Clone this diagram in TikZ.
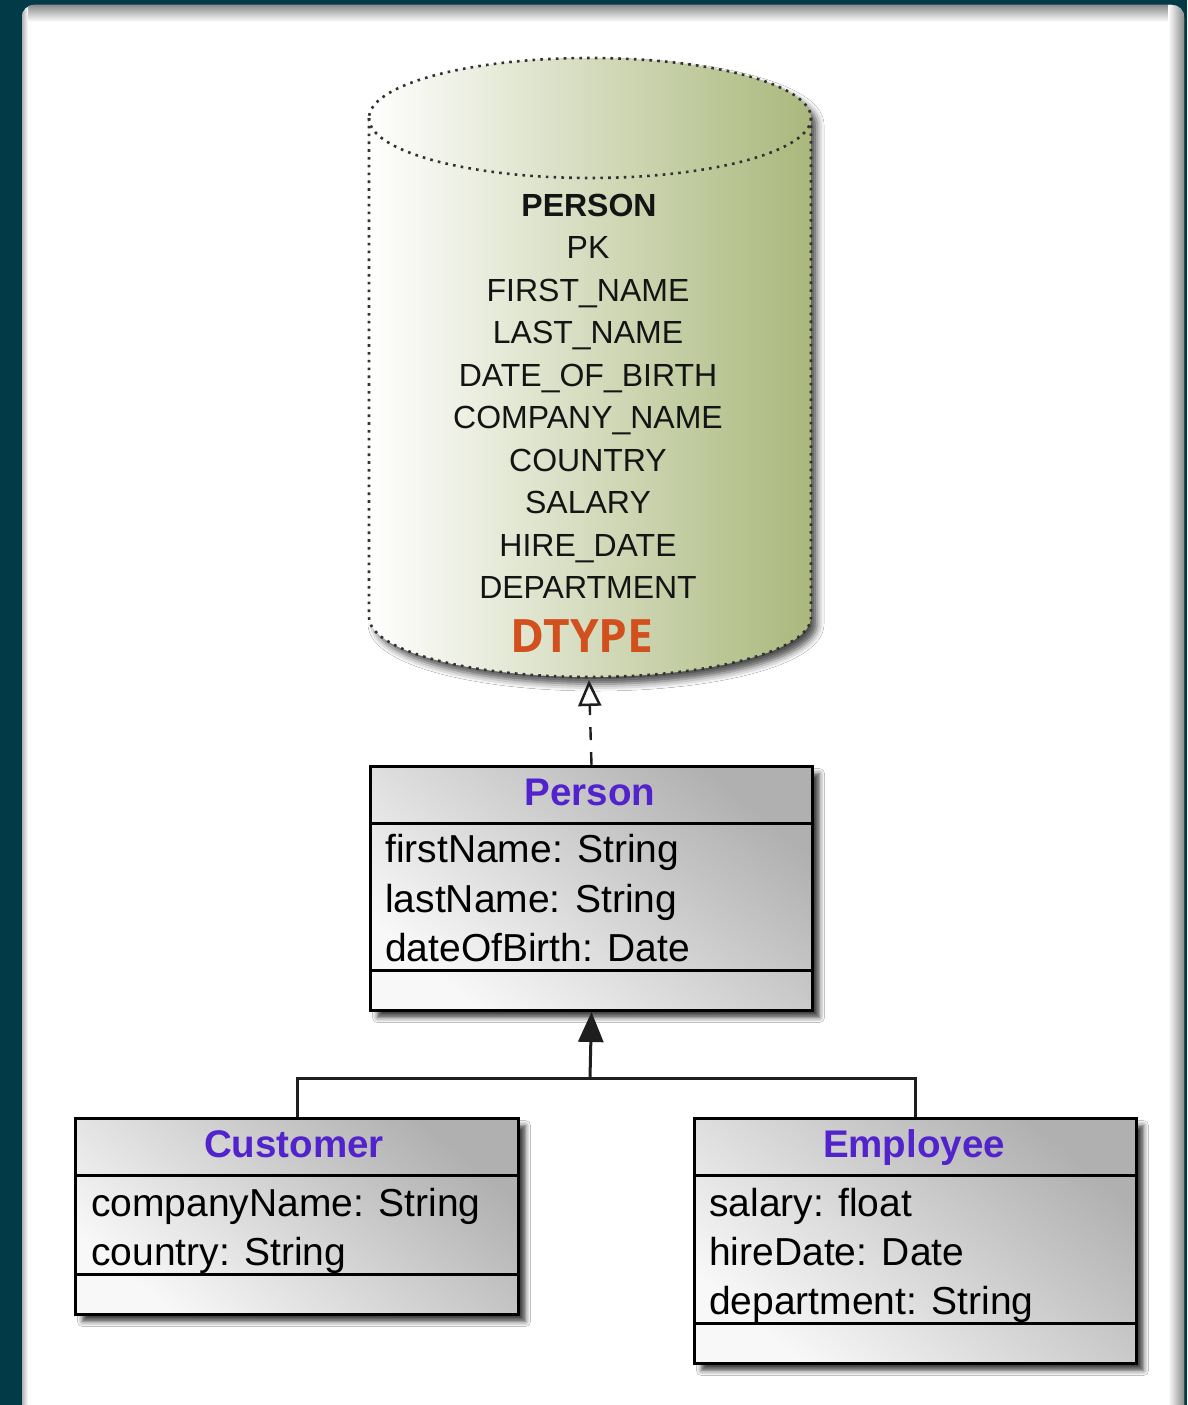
\documentclass[tikz,border=0pt]{standalone}
\usepackage{fontspec}
\setmainfont{Liberation Sans}
\newfontfamily\dtypefont{Open Sans}
\usetikzlibrary{arrows.meta,shadows.blur}

\definecolor{frameteal}{RGB}{2,58,72}
\definecolor{umlpurple}{RGB}{82,34,204}
\definecolor{dtypeorange}{RGB}{210,80,30}
\definecolor{cylgreen}{RGB}{170,184,124}
\definecolor{boxdark}{RGB}{176,176,176}
\definecolor{boxlight}{RGB}{248,248,248}
\definecolor{linegray}{RGB}{30,30,30}
\definecolor{dotgray}{RGB}{50,50,50}
\definecolor{coltext}{RGB}{20,20,20}

\tikzset{
  classbox/.style={draw=black, line width=3pt, rectangle, inner sep=0pt,
    anchor=north west, top color=boxdark, bottom color=boxlight,
    shading angle=-40,
    blur shadow={shadow xshift=7pt, shadow yshift=-7pt,
      shadow blur radius=5pt, shadow opacity=75}},
  divider/.style={draw=black, line width=3pt},
  classname/.style={font=\fontsize{38.5}{44}\selectfont\bfseries,
    text=umlpurple, anchor=base, inner sep=0pt},
  attr/.style={font=\fontsize{39}{45}\selectfont, anchor=base west,
    inner sep=0pt, text=black},
  column/.style={font=\fontsize{32}{38}\selectfont, anchor=base,
    inner sep=0pt, text=coltext},
  cylbody/.style={left color=white, right color=cylgreen,
    blur shadow={shadow xshift=6pt, shadow yshift=-7pt,
      shadow blur radius=7pt, shadow opacity=70}},
  cyledge/.style={draw=dotgray, line width=2.6pt, dash pattern=on 2.6pt off 5.2pt},
  realize/.style={draw=linegray, line width=2.4pt, dash pattern=on 13pt off 12pt,
    -{Triangle[open, length=26pt, width=23pt, line width=2.5pt]}},
  inherit/.style={draw=linegray, line width=3pt},
  inherittip/.style={draw=linegray, line width=3pt,
    -{Triangle[length=30pt, width=25pt]}}
}

\begin{document}
\begin{tikzpicture}[x=1pt, y=-1pt, line join=miter]
\useasboundingbox (0,0) rectangle (1187,1405);

% dark frame and white panel
\fill[frameteal] (0,0) rectangle (1187,1405);
\fill[white, rounded corners=12pt] (22,5) rectangle (1184,1440);
\begin{scope}
  \clip[rounded corners=12pt] (22,5) rectangle (1184,1440);
  \shade[top color=black!45, bottom color=white] (22,5) rectangle (1184,22);
  \shade[left color=white, right color=black!45] (1168,5) rectangle (1184,1405);
  \shade[left color=black!30, right color=white] (22,5) rectangle (28,1405);
\end{scope}

% database table cylinder
\path[cylbody] (369,118) -- (369,617)
  arc[start angle=180, end angle=360, x radius=221pt, y radius=60pt]
  -- (811,118)
  arc[start angle=0, end angle=180, x radius=221pt, y radius=60pt] -- cycle;
\draw[cyledge] (369,118) -- (369,617)
  arc[start angle=180, end angle=360, x radius=221pt, y radius=60pt]
  -- (811,118)
  arc[start angle=0, end angle=180, x radius=221pt, y radius=60pt];
\draw[cyledge] (369,118)
  arc[start angle=180, end angle=360, x radius=221pt, y radius=60pt];
\coordinate (cylbase) at (589,680);

\node[column, font=\fontsize{32}{38}\selectfont\bfseries] (tname) at (589,216.5) {PERSON};
\node[column] (c1) at (588,258.5) {PK};
\node[column] (c2) at (588,301) {FIRST\_NAME};
\node[column] (c3) at (588,343.5) {LAST\_NAME};
\node[column] (c4) at (588,386) {DATE\_OF\_BIRTH};
\node[column] (c5) at (588,428.5) {COMPANY\_NAME};
\node[column] (c6) at (588,471) {COUNTRY};
\node[column] (c7) at (588,513.5) {SALARY};
\node[column] (c8) at (588,556) {HIRE\_DATE};
\node[column] (c9) at (588,598.5) {DEPARTMENT};
\node[inner sep=0pt, anchor=base, text=dtypeorange,
  font=\dtypefont\bfseries\fontsize{46}{50}\selectfont] (dtype) at (582,652) {DTYPE};

% class Person
\node[classbox, minimum width=442pt, minimum height=244pt] (person) at (369,765) {};
\draw[divider] ([yshift=-58pt]person.north west) -- ([yshift=-58pt]person.north east);
\draw[divider] ([yshift=-205pt]person.north west) -- ([yshift=-205pt]person.north east);
\node[classname] (personname) at (590,805) {Person};
\node[attr] (pa1) at (385,862) {firstName: String};
\node[attr] (pa2) at (385,912) {lastName: String};
\node[attr] (pa3) at (385,961) {dateOfBirth: Date};

% class Customer
\node[classbox, minimum width=443pt, minimum height=196pt] (customer) at (74,1117) {};
\draw[divider] ([yshift=-58pt]customer.north west) -- ([yshift=-58pt]customer.north east);
\draw[divider] ([yshift=-157pt]customer.north west) -- ([yshift=-157pt]customer.north east);
\node[classname] (customername) at (294,1157) {Customer};
\node[attr] (ca1) at (91,1216) {companyName: String};
\node[attr] (ca2) at (91,1265) {country: String};

% class Employee
\node[classbox, minimum width=442pt, minimum height=245pt] (employee) at (693,1117) {};
\draw[divider] ([yshift=-58pt]employee.north west) -- ([yshift=-58pt]employee.north east);
\draw[divider] ([yshift=-206pt]employee.north west) -- ([yshift=-206pt]employee.north east);
\node[classname] (employeename) at (914,1157) {Employee};
\node[attr] (ea1) at (709,1216) {salary: float};
\node[attr] (ea2) at (709,1265) {hireDate: Date};
\node[attr] (ea3) at (709,1314) {department: String};

% mapping of Person onto the table
\draw[realize] (person.north) -- (cylbase);

% generalisation tree
\coordinate (hub) at (590,1078);
\draw[inherit] (customer.north) |- (hub) -| (employee.north);
\draw[inherittip] (hub) -- (person.south);
\end{tikzpicture}
\end{document}
